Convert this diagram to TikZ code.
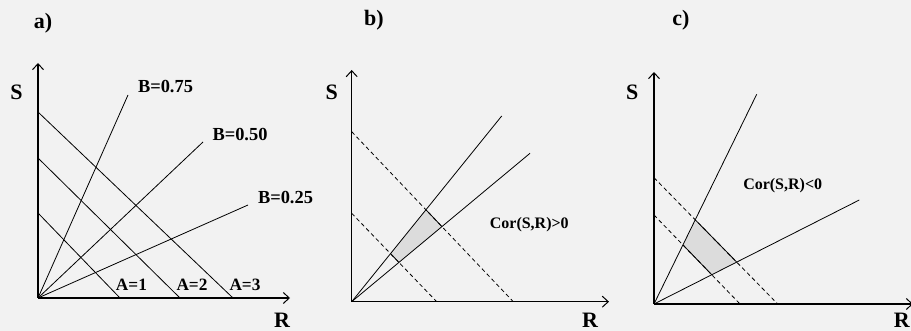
\documentclass[tikz,border=0pt]{standalone}
\usepackage{fontspec}
\setmainfont{Liberation Serif}
\usetikzlibrary{arrows.meta}
\definecolor{bg}{HTML}{F2F2F2}
\definecolor{regshade}{HTML}{DCDCDC}
\tikzset{
  axis/.style={line width=1.2pt,-{Straight Barb[length=6pt,width=11pt,line width=1pt]}},
  ray/.style={line width=0.8pt},
  dline/.style={line width=0.8pt,dash pattern=on 4pt off 3pt},
  bigl/.style={font=\fontsize{22}{24}\selectfont\bfseries,anchor=base,inner sep=0pt},
  midl/.style={font=\fontsize{18.4}{20}\selectfont\bfseries,anchor=base,inner sep=0pt},
  smalll/.style={font=\fontsize{17.3}{19}\selectfont\bfseries,anchor=base,inner sep=0pt},
  corl/.style={font=\fontsize{16}{18}\selectfont\bfseries,anchor=base,inner sep=0pt}
}
\begin{document}
\begin{tikzpicture}[x=1pt,y=-1pt]
\fill[bg] (0,0) rectangle (911,331);
\useasboundingbox (0,0) rectangle (911,331);
% ---------- panel a ----------
\coordinate (oa) at (38,298);
\coordinate (ya) at (38,63);
\coordinate (xa) at (290,298);
\draw[axis] (oa) -- (ya);
\draw[axis] (oa) -- (xa);
\node[bigl] (la) at (43,29) {a)};
\node[bigl] (sa) at (16.5,100) {S};
\node[bigl] (ra) at (282,327) {R};
\coordinate (b75) at (128,95);
\coordinate (b50) at (203,142);
\coordinate (b25) at (248,205);
\draw[ray] (oa) -- (b75);
\draw[ray] (oa) -- (b50);
\draw[ray] (oa) -- (b25);
\coordinate (a3s) at (38,112);  \coordinate (a3e) at (233,298);
\coordinate (a2s) at (38,158);  \coordinate (a2e) at (180,298);
\coordinate (a1s) at (38,213);  \coordinate (a1e) at (120,298);
\draw[ray] (a3s) -- (a3e);
\draw[ray] (a2s) -- (a2e);
\draw[ray] (a1s) -- (a1e);
\node[midl] (tb75) at (165.5,92.7) {B=0.75};
\node[midl] (tb50) at (240,140.7) {B=0.50};
\node[midl] (tb25) at (285.5,204) {B=0.25};
\node[smalll] (ta1) at (131.5,290.7) {A=1};
\node[smalll] (ta2) at (192,290.7) {A=2};
\node[smalll] (ta3) at (245,290.7) {A=3};
% ---------- panel b ----------
\coordinate (ob) at (351.7,301.7);
\coordinate (yb) at (351.7,70);
\coordinate (xb) at (609,301.7);
\coordinate (sb) at (501.7,116);
\coordinate (fb) at (530,153.3);
\coordinate (ub1) at (351.7,131.7); \coordinate (ub2) at (513.3,301.7);
\coordinate (lb1) at (351.7,213.3); \coordinate (lb2) at (436.7,301.7);
\fill[regshade] (intersection of ob--sb and lb1--lb2) -- (intersection of ob--sb and ub1--ub2)
  -- (intersection of ob--fb and ub1--ub2) -- (intersection of ob--fb and lb1--lb2) -- cycle;
\draw[dline] (ub1) -- (ub2);
\draw[dline] (lb1) -- (lb2);
\draw[ray] (intersection of ob--sb and ub1--ub2) -- (intersection of ob--fb and ub1--ub2);
\draw[ray] (intersection of ob--sb and lb1--lb2) -- (intersection of ob--fb and lb1--lb2);
\draw[ray] (ob) -- (sb);
\draw[ray] (ob) -- (fb);
\draw[axis] (ob) -- (yb);
\draw[axis] (ob) -- (xb);
\node[bigl] (lbb) at (374,26) {b)};
\node[bigl] (sbb) at (331.7,100) {S};
\node[bigl] (rbb) at (590,327) {R};
\node[corl] (corb) at (529.3,229) {Cor(S,R)>0};
% ---------- panel c ----------
\coordinate (oc) at (654,304);
\coordinate (yc) at (654,72);
\coordinate (xc) at (913,304);
\coordinate (sc) at (756.7,94.3);
\coordinate (fc) at (859.3,200);
\coordinate (uc1) at (654,177.7); \coordinate (uc2) at (777.7,304);
\coordinate (lc1) at (654,215);   \coordinate (lc2) at (740,304);
\fill[regshade] (intersection of oc--sc and lc1--lc2) -- (intersection of oc--sc and uc1--uc2)
  -- (intersection of oc--fc and uc1--uc2) -- (intersection of oc--fc and lc1--lc2) -- cycle;
\draw[dline] (uc1) -- (uc2);
\draw[dline] (lc1) -- (lc2);
\draw[ray] (intersection of oc--sc and uc1--uc2) -- (intersection of oc--fc and uc1--uc2);
\draw[ray] (intersection of oc--sc and lc1--lc2) -- (intersection of oc--fc and lc1--lc2);
\draw[ray] (oc) -- (sc);
\draw[ray] (oc) -- (fc);
\draw[axis] (oc) -- (yc);
\draw[axis] (oc) -- (xc);
\node[bigl] (lcc) at (681,26) {c)};
\node[bigl] (scc) at (632.3,100) {S};
\node[bigl] (rcc) at (901.7,327) {R};
\node[corl] (corc) at (782.7,190) {Cor(S,R)<0};
\end{tikzpicture}
\end{document}
